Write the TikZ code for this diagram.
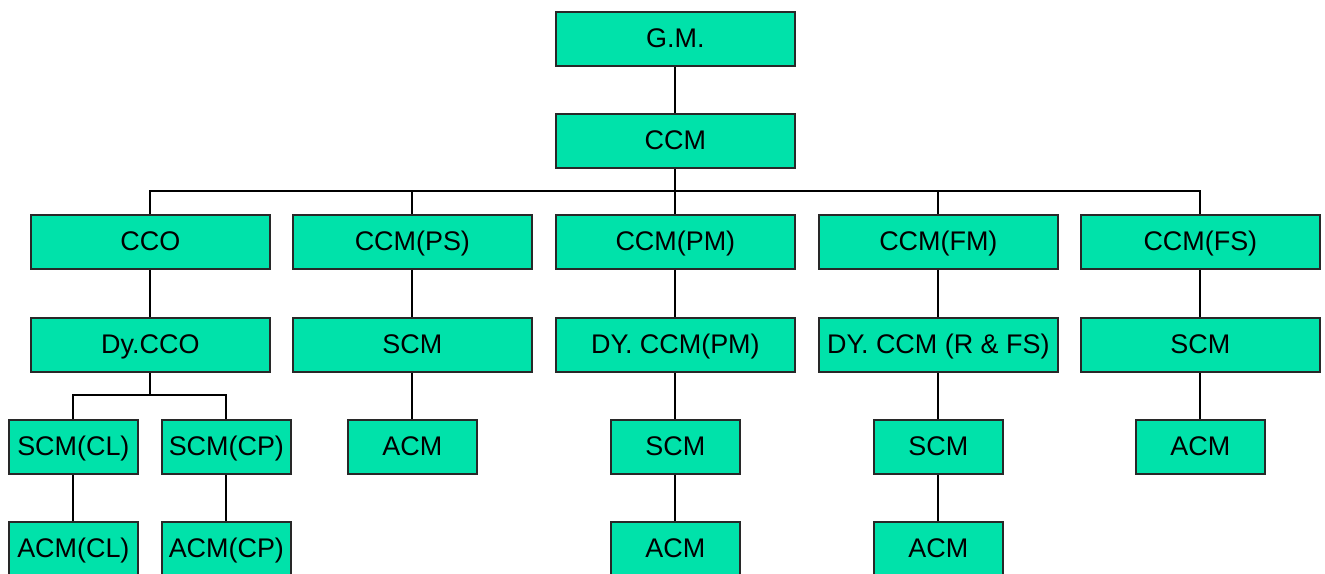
\documentclass[tikz,border=0pt]{standalone}
\usepackage{fontspec}
\setmainfont{Liberation Sans}
\definecolor{boxfill}{RGB}{0,226,170}
\definecolor{boxline}{RGB}{40,40,40}
\begin{document}
\begin{tikzpicture}[x=0.75pt,y=-0.75pt,
  wide/.style={draw=boxline,line width=1.3pt,fill=boxfill,minimum width=239*0.75pt,minimum height=54*0.75pt,inner sep=0pt,text height=16.2pt,text depth=2.7pt,font=\fontsize{20.2}{23}\selectfont,anchor=north west},
  narrow/.style={wide,minimum width=129*0.75pt},
  conn/.style={line width=1.5pt,black}]
\useasboundingbox (0,0) rectangle (1325,574);
\clip (0,0) rectangle (1325,574);
\node[wide] (gm) at (555,11) {G.M.};
\node[wide] (ccm) at (555,113) {CCM};
\node[wide] (cco) at (30,214) {CCO};
\node[wide] (ps) at (292,214) {CCM(PS)};
\node[wide] (pm) at (555,214) {CCM(PM)};
\node[wide] (fm) at (818,214) {CCM(FM)};
\node[wide] (fs) at (1080,214) {CCM(FS)};
\node[wide] (dycco) at (30,317) {Dy.CCO};
\node[wide] (psscm) at (292,317) {SCM};
\node[wide] (dypm) at (555,317) {DY. CCM(PM)};
\node[wide] (dyfm) at (818,317) {DY. CCM (R \& FS)};
\node[wide] (fsscm) at (1080,317) {SCM};
\node[narrow] (scmcl) at (8,419) {SCM(CL)};
\node[narrow] (scmcp) at (161,419) {SCM(CP)};
\node[narrow] (psacm) at (347,419) {ACM};
\node[narrow] (pmscm) at (610,419) {SCM};
\node[narrow] (fmscm) at (873,419) {SCM};
\node[narrow] (fsacm) at (1135,419) {ACM};
\node[narrow] (acmcl) at (8,521) {ACM(CL)};
\node[narrow] (acmcp) at (161,521) {ACM(CP)};
\node[narrow] (pmacm) at (610,521) {ACM};
\node[narrow] (fmacm) at (873,521) {ACM};
\coordinate (bus) at (ccm.south |- 0,191);
\coordinate (bus2) at (dycco.south |- 0,395);
\draw[conn] (gm.south) -- (ccm.north);
\draw[conn] (ccm.south) -- (bus);
\draw[conn] (cco.north) |- (bus) -| (fs.north);
\draw[conn] (ps.north) |- (bus) -| (fm.north);
\draw[conn] (bus) -- (pm.north);
\draw[conn] (cco.south) -- (dycco.north);
\draw[conn] (ps.south) -- (psscm.north);
\draw[conn] (pm.south) -- (dypm.north);
\draw[conn] (fm.south) -- (dyfm.north);
\draw[conn] (fs.south) -- (fsscm.north);
\draw[conn] (dycco.south) -- (bus2);
\draw[conn] (scmcl.north) |- (bus2) -| (scmcp.north);
\draw[conn] (psscm.south) -- (psacm.north);
\draw[conn] (dypm.south) -- (pmscm.north);
\draw[conn] (dyfm.south) -- (fmscm.north);
\draw[conn] (fsscm.south) -- (fsacm.north);
\draw[conn] (scmcl.south) -- (acmcl.north);
\draw[conn] (scmcp.south) -- (acmcp.north);
\draw[conn] (pmscm.south) -- (pmacm.north);
\draw[conn] (fmscm.south) -- (fmacm.north);
\end{tikzpicture}
\end{document}
